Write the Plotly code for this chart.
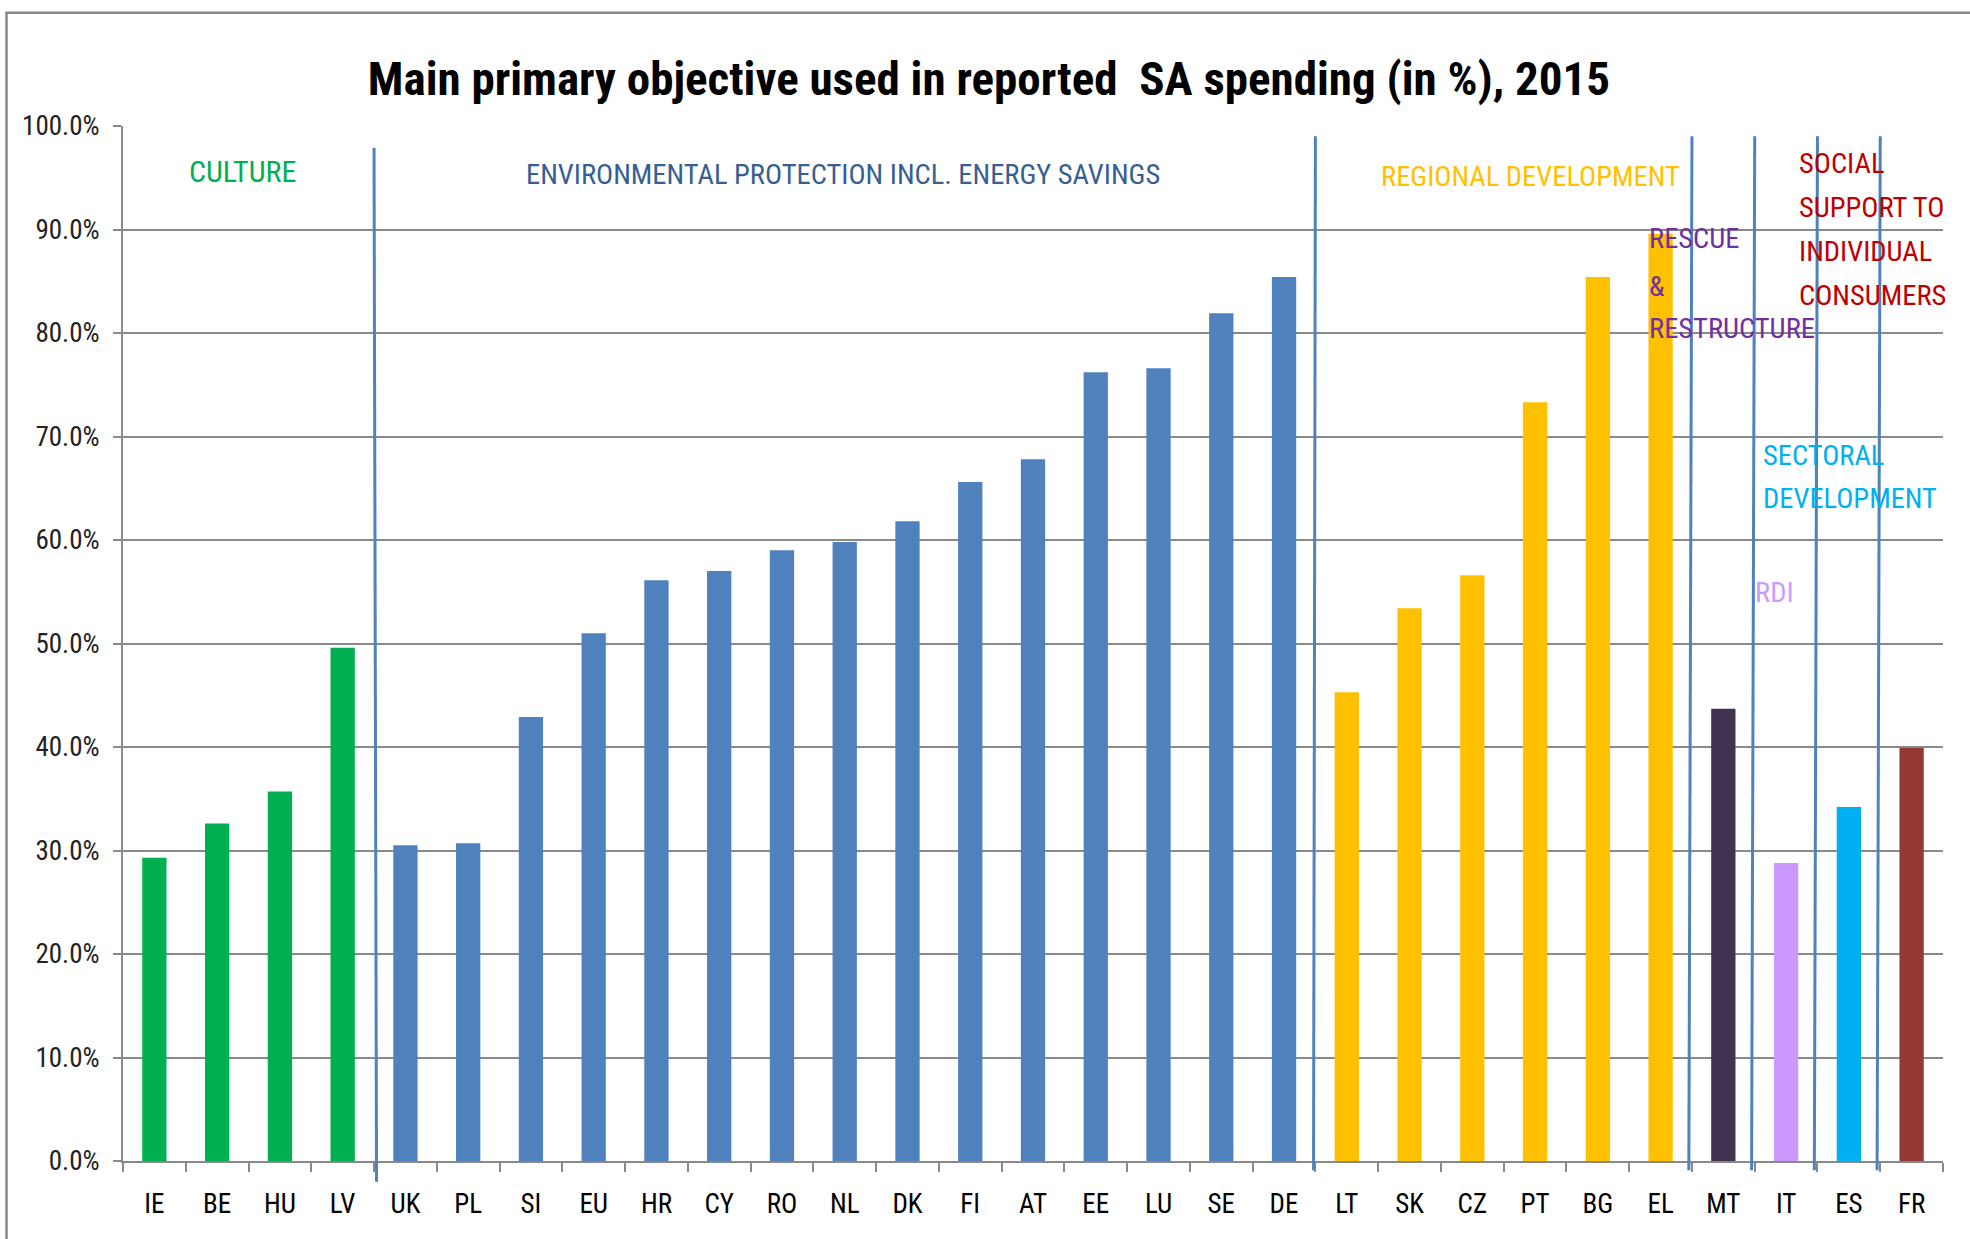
import plotly.graph_objects as go

# ---------------- data ----------------
countries = ["IE", "BE", "HU", "LV", "UK", "PL", "SI", "EU", "HR", "CY", "RO", "NL",
             "DK", "FI", "AT", "EE", "LU", "SE", "DE", "LT", "SK", "CZ", "PT", "BG",
             "EL", "MT", "IT", "ES", "FR"]
shares = [29.3, 32.6, 35.7, 49.6, 30.5, 30.7, 42.9, 51.0, 56.1, 57.0, 59.0, 59.8,
          61.8, 65.6, 67.8, 76.2, 76.6, 81.9, 85.4, 45.3, 53.4, 56.6, 73.3, 85.4,
          89.6, 43.7, 28.8, 34.2, 39.9]
objective = (["CULTURE"] * 4 + ["ENVIRONMENT"] * 15 + ["REGIONAL"] * 6 +
             ["RESCUE", "RDI", "SECTORAL", "SOCIAL"])
y_ticks = [0, 10, 20, 30, 40, 50, 60, 70, 80, 90, 100]
y_tick_labels = ["0.0%", "10.0%", "20.0%", "30.0%", "40.0%", "50.0%", "60.0%",
                 "70.0%", "80.0%", "90.0%", "100.0%"]

# ---------------- style ----------------
bar_colors = {"CULTURE": "#00B050", "ENVIRONMENT": "#4F81BD", "REGIONAL": "#FFC000",
              "RESCUE": "#403151", "RDI": "#CC99FF", "SECTORAL": "#00B0F0",
              "SOCIAL": "#953735"}
FONT = "Liberation Sans Narrow, Arial Narrow, Roboto Condensed, Liberation Sans, sans-serif"
GRID = "#898989"
SEP = "#4F81BD"

fig = go.Figure(go.Bar(
    x=countries, y=shares,
    marker=dict(color=[bar_colors[o] for o in objective], line=dict(width=0)),
))

# separator lines between objective groups (x in category units, y in paper units)
seps = [(3.5, 3.54, 0.979, -0.020),
        (18.5, 18.47, 0.990, -0.009),
        (24.5, 24.45, 0.990, -0.009),
        (25.5, 25.45, 0.990, -0.009),
        (26.5, 26.45, 0.990, -0.009),
        (27.5, 27.45, 0.990, -0.009)]
shapes = []
for xt, xb, yt, yb in seps:
    shapes.append(dict(type="line", xref="x", yref="paper", x0=xb, x1=xt, y0=yb, y1=yt,
                       line=dict(color=SEP, width=3)))
# outer chart border
shapes.append(dict(type="rect", xref="paper", yref="paper", x0=-0.064, x1=1.2, y0=-0.3,
                   y1=1.1095, line=dict(color=GRID, width=2.5), layer="below"))

annots = []
def lab(text, x, y, color, anchor="left", size=28.5):
    annots.append(dict(text=text, x=x, y=y, xref="x", yref="y", xanchor=anchor,
                       yanchor="middle", showarrow=False,
                       font=dict(family=FONT, size=size, color=color)))

lab("CULTURE", 1.40, 95.65, "#00B050", "center", 30)
lab("ENVIRONMENTAL PROTECTION INCL. ENERGY SAVINGS", 10.98, 95.3, "#376092", "center")
lab("REGIONAL DEVELOPMENT", 21.92, 95.1, "#FFC000", "center")
for t, yv in zip(["RESCUE", "&", "RESTRUCTURE"], [89.13, 84.47, 80.48]):
    lab(t, 23.79, yv, "#7030A0")
for t, yv in zip(["SOCIAL", "SUPPORT TO", "INDIVIDUAL", "CONSUMERS"],
                 [96.38, 92.17, 87.92, 83.62]):
    lab(t, 26.17, yv, "#C00000")
for t, yv in zip(["SECTORAL", "DEVELOPMENT"], [68.2, 64.0]):
    lab(t, 25.60, yv, "#00B0F0")
lab("RDI", 25.47, 54.9, "#CC99FF")

fig.update_layout(
    width=1970, height=1239,
    margin=dict(l=123, r=27, t=126, b=78, autoexpand=False),
    paper_bgcolor="white", plot_bgcolor="white",
    bargap=0.613,
    showlegend=False,
    title=dict(text="<b>Main primary objective used in reported  SA spending (in %), 2015</b>",
               x=0.502, xanchor="center", xref="container",
               y=1 - 79 / 1239, yanchor="middle", yref="container",
               font=dict(family=FONT, size=47, color="black")),
    shapes=shapes,
    annotations=annots,
    xaxis=dict(type="category", range=[-0.5, len(countries) - 0.5], autorange=False,
               showline=True, linecolor=GRID, linewidth=2,
               ticks="outside", tickson="boundaries", ticklen=9, tickwidth=1.5,
               tickcolor=GRID, showgrid=False, automargin=False,
               tickfont=dict(family=FONT, size=27, color="black"),
               ticklabelstandoff=18),
    yaxis=dict(range=[0, 100], tickvals=y_ticks, ticktext=y_tick_labels,
               showgrid=True, gridcolor=GRID, gridwidth=2, zeroline=False,
               showline=True, linecolor=GRID, linewidth=2, automargin=False,
               ticks="outside", ticklen=8, tickwidth=1.5, tickcolor=GRID,
               tickfont=dict(family=FONT, size=27, color="#222222"),
               ticklabelstandoff=8),
)

fig.write_html("out.html")
